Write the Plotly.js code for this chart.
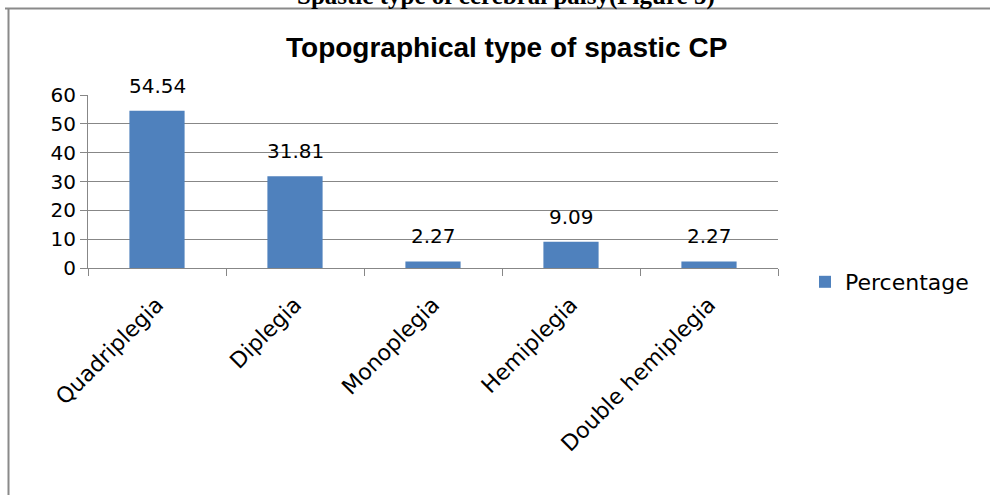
<!DOCTYPE html>
<html>
<head>
<meta charset="utf-8">
<script src="https://cdn.plot.ly/plotly-3.0.1.min.js"></script>
<style>
  html, body { margin: 0; padding: 0; background: #ffffff; }
  #chart { width: 990px; height: 495px; }
</style>
</head>
<body>
<div id="chart"></div>
<script>
const categories = ["Quadriplegia", "Diplegia", "Monoplegia", "Hemiplegia", "Double hemiplegia"];
const percentages = [54.54, 31.81, 2.27, 9.09, 2.27];
const valueLabels = ["54.54", "31.81", "2.27", "9.09", "2.27"];
const yTickValues = [0, 10, 20, 30, 40, 50, 60];
const seriesName = "Percentage";
const chartTitle = "Topographical type of spastic CP";
const pageCaption = "Spastic type of cerebral palsy(Figure 5)";

// plot area in pixels
const L = 88, R = 778, T = 95, B = 268;
const W = 990, H = 495;
const px = x => (x - L) / (R - L);
const py = y => (B - y) / (B - T);

const grey = "#878787";
const labelFont = { family: "DejaVu Sans", size: 20, color: "#000000" };

const trace = {
  type: "bar",
  x: categories,
  y: percentages,
  name: seriesName,
  marker: { color: "#4F81BD" },
  showlegend: true,
  hoverinfo: "none"
};

const annotations = categories.map((c, i) => ({
  x: c, y: percentages[i], xref: "x", yref: "y",
  text: valueLabels[i], showarrow: false,
  yanchor: "bottom", yshift: 11,
  font: labelFont
}));

annotations.push({
  xref: "paper", yref: "paper",
  x: px(506), y: py(48), xanchor: "center", yanchor: "middle",
  text: "<b>" + chartTitle + "</b>", showarrow: false,
  font: { family: "Liberation Sans", size: 28, color: "#000000" }
});

annotations.push({
  xref: "paper", yref: "paper",
  x: px(506), y: py(12), xanchor: "center", yanchor: "bottom",
  text: "<b>" + pageCaption + "</b>", showarrow: false,
  font: { family: "Liberation Serif", size: 25, color: "#000000" }
});

const shapes = [
  { type: "line", xref: "paper", yref: "paper",
    x0: px(5), x1: px(W + 5), y0: py(8.5), y1: py(8.5),
    line: { color: "#8a8a8a", width: 2 } },
  { type: "line", xref: "paper", yref: "paper",
    x0: px(8.5), x1: px(8.5), y0: py(8), y1: py(H + 5),
    line: { color: "#8a8a8a", width: 2 } }
];

const layout = {
  width: W, height: H,
  margin: { l: L, r: W - R, t: T, b: H - B, pad: 0 },
  paper_bgcolor: "#ffffff",
  plot_bgcolor: "#ffffff",
  showlegend: true,
  bargap: 0.6,
  xaxis: {
    type: "category",
    tickangle: -45,
    tickfont: { family: "DejaVu Sans", size: 22, color: "#000000" },
    ticklabelstandoff: 14,
    showline: true, linecolor: grey, linewidth: 1,
    ticks: "outside", tickson: "boundaries", ticklen: 7, tickcolor: grey,
    showgrid: false, zeroline: false,
    fixedrange: true
  },
  yaxis: {
    range: [0, 60],
    tickvals: yTickValues,
    ticktext: yTickValues.map(String),
    tickfont: labelFont,
    showline: true, linecolor: grey, linewidth: 1,
    ticks: "outside", ticklen: 7, tickcolor: grey,
    showgrid: true, gridcolor: grey, gridwidth: 1,
    zeroline: false,
    fixedrange: true
  },
  legend: {
    x: px(805), y: py(282), xanchor: "left", yanchor: "middle",
    font: { family: "DejaVu Sans", size: 22, color: "#000000" },
    bgcolor: "rgba(0,0,0,0)"
  },
  annotations: annotations,
  shapes: shapes
};

Plotly.newPlot("chart", [trace], layout, { displayModeBar: false, staticPlot: true });
</script>
</body>
</html>
